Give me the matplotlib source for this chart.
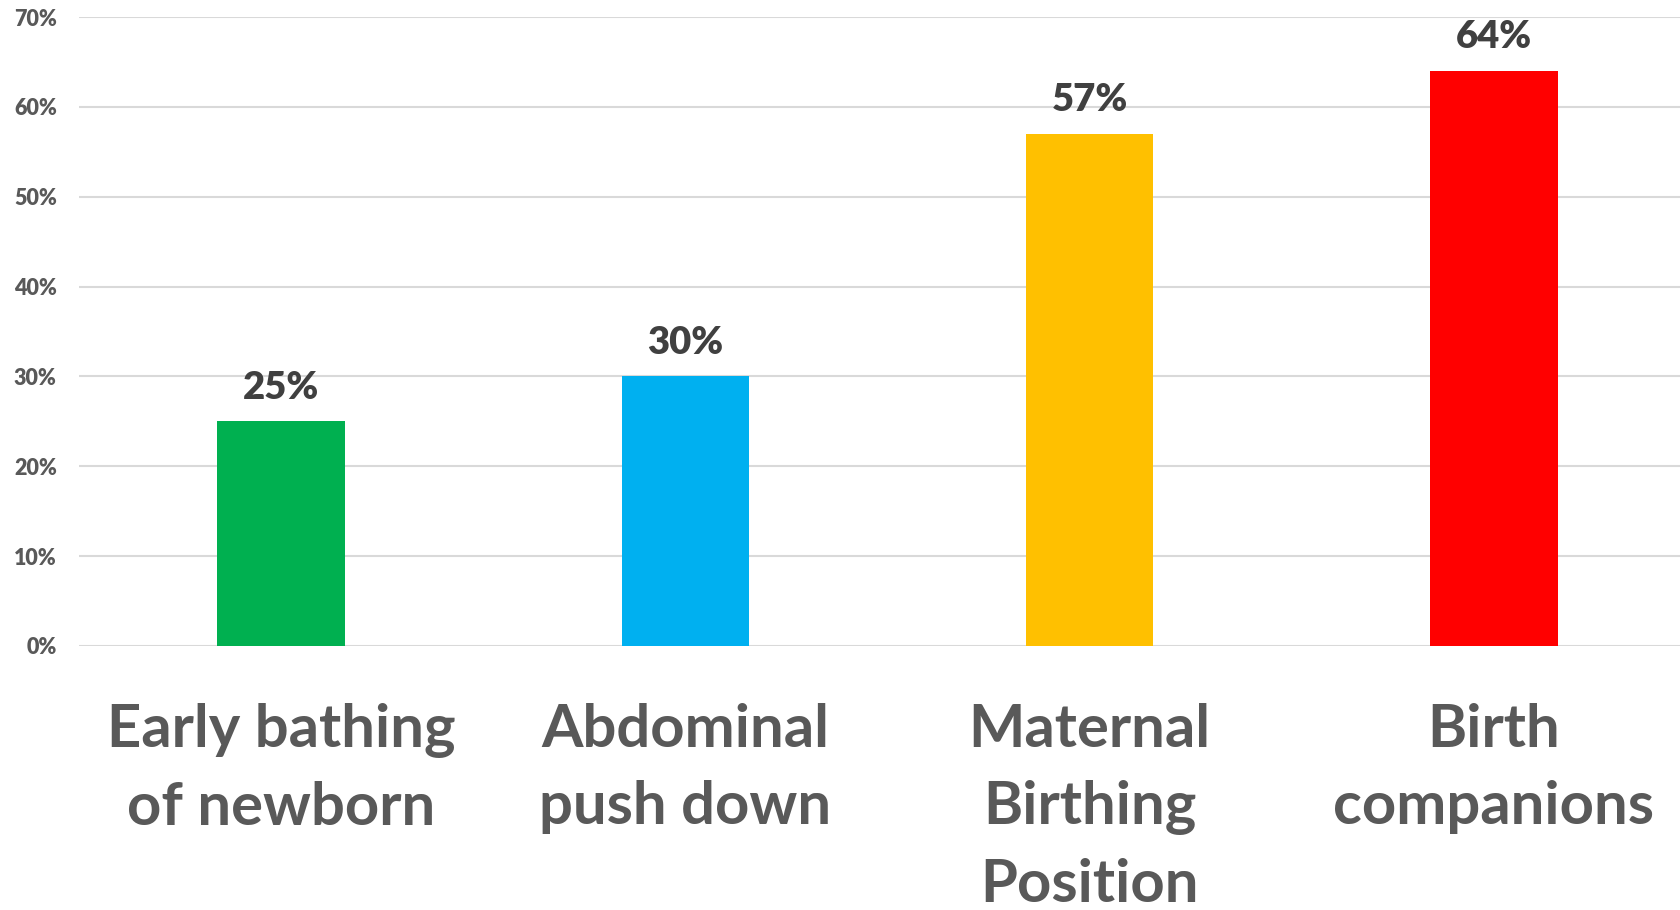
import matplotlib.pyplot as plt
import matplotlib.ticker as ticker

categories = ['Early bathing\nof newborn', 'Abdominal\npush down',
              'Maternal\nBirthing\nPosition', 'Birth\ncompanions']
values = [25, 30, 57, 64]
labels = ['25%', '30%', '57%', '64%']
colors = ['#00b050', '#00b0f0', '#ffc000', '#ff0000']

plt.rcParams['font.family'] = ['Lato', 'DejaVu Sans']

fig = plt.figure(figsize=(16.81, 9.10), dpi=100)
# plot area runs a little past the right edge, as in the original
ax = fig.add_axes([79 / 1681, 1 - 646 / 910, 1617 / 1681, (646 - 17) / 910])

x = range(len(categories))
ax.bar(x, values, width=0.315, color=colors, zorder=3)

for xi, v, lab in zip(x, values, labels):
    ax.annotate(lab, (xi, v), xytext=(0, 12), textcoords='offset points',
                ha='center', va='bottom', fontsize=27.5, fontweight='heavy',
                color='#404040')

ax.set_xlim(-0.5, len(categories) - 0.5)
ax.set_ylim(0, 70)
ax.yaxis.set_major_locator(ticker.MultipleLocator(10))
ax.yaxis.set_major_formatter(ticker.FuncFormatter(lambda v, p: f'{v:.0f}%'))
ax.grid(axis='y', color='#d9d9d9', linewidth=1.5, zorder=0)

ax.set_xticks(list(x))
ax.set_xticklabels(categories, fontsize=43, fontweight='bold', color='#595959',
                   linespacing=1.52)
ax.tick_params(axis='x', length=0, pad=41)
ax.tick_params(axis='y', length=0, pad=16, labelsize=15.5, labelcolor='#595959')
for t in ax.get_yticklabels():
    t.set_fontweight('heavy')

for s in ax.spines.values():
    s.set_visible(False)

plt.savefig('out.png', dpi=100)
